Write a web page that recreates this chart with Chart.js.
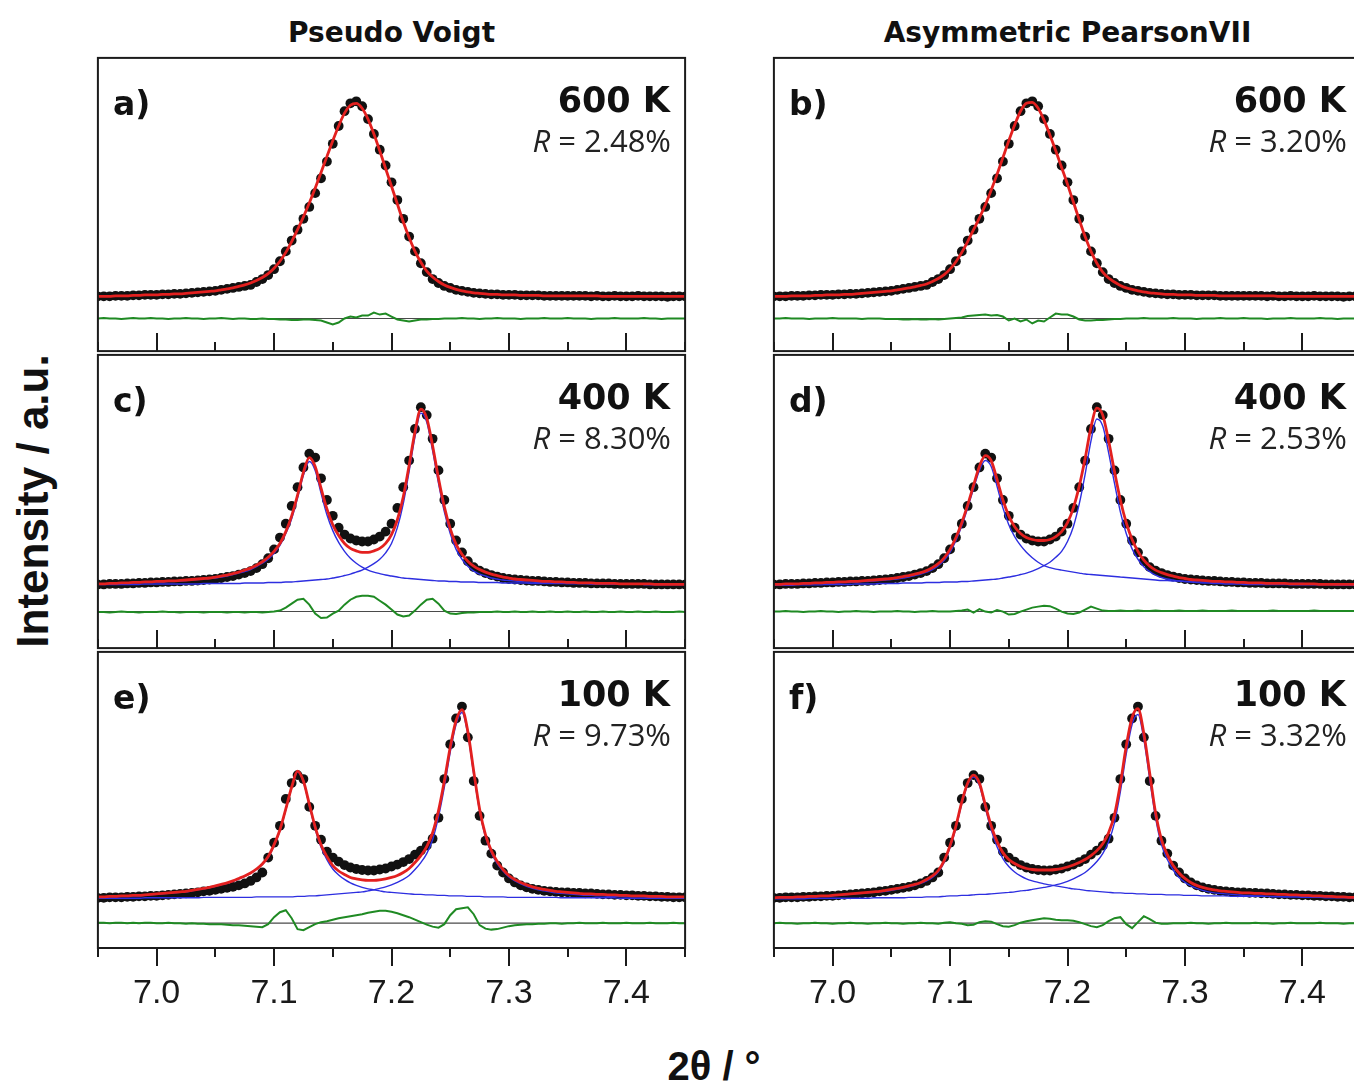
<!DOCTYPE html>
<html>
<head>
<meta charset="utf-8">
<script src="https://cdn.jsdelivr.net/npm/chart.js@4.4.1/dist/chart.umd.min.js"></script>
<style>
  html, body { margin: 0; padding: 0; background: #fff; overflow: hidden; }
  #fig { position: relative; width: 1354px; height: 1084px; overflow: hidden; background: #fff; }
  #fig canvas { position: absolute; }
  .t { position: absolute; white-space: nowrap; line-height: 1; color: #111; }
  .title { font: bold 28px "DejaVu Sans", Verdana, sans-serif; transform: translateX(-50%); }
  .letter { font: bold 33px "DejaVu Sans", Verdana, sans-serif; }
  .temp { font: bold 35px "DejaVu Sans", Verdana, sans-serif; }
  .rval { font: 31px "Open Sans", sans-serif; color: #222; }
  .axis { font: bold 44px "Liberation Sans", Arial, sans-serif; }
</style>
</head>
<body>
<div id="fig"></div>
<script>
// 2θ grid shared by every series (degrees)
const TWO_THETA = [
  6.95, 6.955, 6.96, 6.965, 6.97, 6.975, 6.98, 6.985, 6.99, 6.995,
  7.00, 7.005, 7.01, 7.015, 7.02, 7.025, 7.03, 7.035, 7.04, 7.045,
  7.05, 7.055, 7.06, 7.065, 7.07, 7.075, 7.08, 7.085, 7.09, 7.095,
  7.10, 7.105, 7.11, 7.115, 7.12, 7.125, 7.13, 7.135, 7.14, 7.145,
  7.15, 7.155, 7.16, 7.165, 7.17, 7.175, 7.18, 7.185, 7.19, 7.195,
  7.20, 7.205, 7.21, 7.215, 7.22, 7.225, 7.23, 7.235, 7.24, 7.245,
  7.25, 7.255, 7.26, 7.265, 7.27, 7.275, 7.28, 7.285, 7.29, 7.295,
  7.30, 7.305, 7.31, 7.315, 7.32, 7.325, 7.33, 7.335, 7.34, 7.345,
  7.35, 7.355, 7.36, 7.365, 7.37, 7.375, 7.38, 7.385, 7.39, 7.395,
  7.40, 7.405, 7.41, 7.415, 7.42, 7.425, 7.43, 7.435, 7.44, 7.445,
  7.45
];
const TICK_VALUES = [7.0, 7.1, 7.2, 7.3, 7.4];
const TICK_LABELS = ['7.0', '7.1', '7.2', '7.3', '7.4'];
const MINOR_TICKS = [6.95, 7.05, 7.15, 7.25, 7.35, 7.45];

const COLUMN_TITLES = ['Pseudo Voigt', 'Asymmetric PearsonVII'];
const TEMPERATURES = ['600 K', '400 K', '100 K'];
const PANEL_LETTERS = [['a)', 'b)'], ['c)', 'd)'], ['e)', 'f)']];
const R_FACTORS = [['2.48', '3.20'], ['8.30', '2.53'], ['9.73', '3.32']];
// level of the difference-curve zero line in each temperature row (a.u.)
const DIFF_ZERO = [33, 37, 25];

// ---------- 600 K ----------
const OBS_600K = [
  55.5, 55.5, 55.5, 56, 56, 56, 56.5, 56.5, 57, 57,
  57, 57.5, 57.5, 58, 58, 58.5, 59, 59.5, 60, 60.5,
  61, 62, 63, 64, 65, 66, 67, 70, 73, 77,
  83, 91, 101, 112, 123, 134, 146, 160, 175, 192,
  210, 228, 243, 251, 253, 248, 235, 220, 204, 188,
  171, 153, 134, 116, 101, 89, 80, 73, 69, 66,
  64, 62, 61, 60, 59, 58.5, 58, 57.5, 57.5, 57,
  57, 57, 56.5, 56.5, 56.5, 56.5, 56, 56, 56, 56,
  56, 56, 56, 56, 55.5, 56, 55.5, 55.5, 56, 55.5,
  55.5, 55.5, 56, 55.5, 55.5, 55.5, 55.5, 55, 55.5, 55.5,
  55.5
];
const FIT_PV_600K = [
  55.5, 55.5, 55.5, 56, 56, 56, 56.5, 56.5, 57, 57,
  57, 57.5, 57.5, 58, 58, 58.5, 59, 59.5, 60, 60.5,
  61, 62, 63, 64, 65.5, 67, 69, 71.5, 74.5, 78.5,
  84, 91, 100, 111, 123, 136, 150, 165, 181, 197,
  213, 228, 241, 249, 251, 246, 235, 220, 203, 185,
  167, 149, 131, 115, 101, 90, 81, 75, 70.5, 67,
  64.5, 62.5, 61, 60, 59, 58.5, 58, 57.5, 57.5, 57,
  57, 57, 56.5, 56.5, 56.5, 56.5, 56, 56, 56, 56,
  56, 56, 56, 56, 56, 56, 55.5, 55.5, 55.5, 55.5,
  55.5, 55.5, 55.5, 55.5, 55.5, 55.5, 55.5, 55.5, 55.5, 55.5,
  55.5
];
const DIFF_PV_600K = [
  33, 33.5, 33, 33, 32.5, 33, 33.5, 33, 33, 33.5,
  33, 33, 32.5, 33, 33, 33.5, 33, 33, 32.5, 33,
  33, 33.5, 33, 32.5, 33, 33, 32.5, 32.5, 33, 32.5,
  32.5, 32, 32, 31.5, 31.5, 32, 32, 31.5, 31, 29,
  27, 29, 33, 35, 34, 36, 36, 39, 37, 38,
  35, 32, 31, 30, 31, 32, 32, 32.5, 32.5, 33,
  33, 33, 33.5, 33, 33, 32.5, 33, 33, 33.5, 33,
  33, 33, 32.5, 33, 33, 33, 33.5, 33, 33, 33,
  33.5, 33, 33, 33, 32.5, 33, 33, 33, 33.5, 33,
  33, 33, 33, 33.5, 33, 33, 32.5, 33, 33, 33,
  33
];
const FIT_PVII_600K = [
  55.5, 55.5, 55.5, 56, 56, 56, 56, 56.5, 56.5, 57,
  57, 57, 57.5, 57.5, 58, 58.5, 59, 59.5, 60, 60.5,
  61, 62, 63, 64, 65, 66.5, 68, 70.5, 73.5, 77.5,
  83, 90.5, 100, 111, 123, 135, 148, 163, 179, 196,
  213, 229, 243, 251, 252, 246, 234, 219, 203, 186,
  169, 151, 133, 116, 101, 89, 80, 74, 70, 66.5,
  64, 62.5, 61, 60, 59, 58.5, 58, 57.5, 57.5, 57,
  57, 57, 56.5, 56.5, 56.5, 56.5, 56, 56, 56, 56,
  56, 56, 56, 56, 56, 56, 55.5, 55.5, 55.5, 55.5,
  55.5, 55.5, 55.5, 55.5, 55.5, 55.5, 55.5, 55.5, 55.5, 55.5,
  55.5
];
const DIFF_PVII_600K = [
  33, 33, 33.5, 33, 33, 33, 32.5, 33, 33, 33,
  33.5, 33, 33, 33, 33, 32.5, 33, 33, 33, 32.5,
  32.5, 32.5, 32, 32, 32.5, 32, 32, 32.5, 32, 32.5,
  33, 33.5, 34, 35.5, 36, 36.5, 37, 36, 36.5, 35,
  31, 33, 30, 32, 28, 31, 30, 34, 38, 37,
  37, 35, 32, 31, 31, 31.5, 31.5, 32, 32.5, 32.5,
  33, 33, 33, 33.5, 33, 33, 33, 33, 33.5, 33,
  33, 33, 32.5, 33, 33, 33, 33.5, 33, 33, 33,
  33.5, 33, 33, 33, 32.5, 33, 33, 33, 33.5, 33,
  33, 33, 33, 33.5, 33, 33, 32.5, 33, 33, 33,
  33
];

// ---------- 400 K ----------
const OBS_400K = [
  64.5, 64.5, 65, 65, 65, 65.5, 65.5, 66, 66, 66.5,
  66.5, 67, 67, 67.5, 67.5, 68, 68, 68.5, 69, 69.5,
  70, 71, 72, 73, 74.5, 76, 78, 81, 85, 91,
  100, 112, 126, 144, 163, 183, 197, 193, 172, 150,
  134, 122, 115, 111, 109, 108, 108, 110, 113, 118,
  126, 142, 163, 190, 222, 244, 236, 212, 180, 150,
  126, 109, 97, 88, 82, 78.5, 76, 74, 72.5, 71,
  70, 69.5, 69, 68.5, 68, 68, 67.5, 67, 67, 66.5,
  66.5, 66, 66, 66, 65.5, 65.5, 65.5, 65.5, 65, 65,
  65, 65, 65, 65, 64.5, 64.5, 64.5, 64.5, 64.5, 64.5,
  64.5
];
const FIT_PV_400K = [
  65, 65, 65.5, 65.5, 66, 66, 66.5, 66.5, 67, 67,
  67.5, 67.5, 68, 68, 68.5, 69, 69.5, 70, 70.5, 71,
  72, 73, 74, 75.5, 77, 79, 81, 84, 87.5, 92,
  98, 106, 118, 134, 155, 178, 193, 184, 162, 141,
  125, 114, 106, 101, 98.5, 97, 97, 98.5, 101, 106,
  115, 130, 153, 185, 219, 242, 233, 205, 172, 143,
  121, 105, 95, 88, 83, 79.5, 77, 75, 73.5, 72,
  71, 70, 69.5, 69, 68.5, 68, 67.5, 67.5, 67, 67,
  66.5, 66.5, 66, 66, 66, 65.5, 65.5, 65.5, 65.5, 65,
  65, 65, 65, 65, 65, 64.5, 64.5, 64.5, 64.5, 64.5,
  64.5
];
const PEAK1_PV_400K = [
  65, 65, 65.5, 65.5, 65.5, 66, 66, 66.5, 66.5, 67,
  67, 67, 67.5, 67.5, 68, 68.5, 69, 69.5, 70, 70.5,
  71, 72, 73, 74.5, 76, 77.5, 79.5, 82.5, 86, 90,
  96, 104, 116, 131, 152, 175, 189, 180, 157, 135,
  119, 107, 98, 91, 86, 82, 79, 77, 75.5, 74,
  73, 72, 71, 70.5, 70, 69.5, 69, 68.5, 68, 68,
  67.5, 67.5, 67, 67, 67, 66.5, 66.5, 66.5, 66.5, 66,
  66, 66, 66, 66, 65.5, 65.5, 65.5, 65.5, 65.5, 65.5,
  65.5, 65.5, 65.5, 65.5, 65, 65, 65, 65, 65, 65,
  65, 65, 65, 64.5, 64.5, 64.5, 64.5, 64.5, 64.5, 64.5,
  64.5
];
const PEAK2_PV_400K = [
  64.5, 64.5, 64.5, 64.5, 64.5, 64.5, 64.5, 64.5, 65, 65,
  65, 65, 65, 65, 65, 65, 65, 65, 65.5, 65.5,
  65.5, 65.5, 65.5, 65.5, 65.5, 66, 66, 66, 66, 66.5,
  66.5, 66.5, 67, 67, 67.5, 68, 68.5, 69, 69.5, 70,
  71, 72, 73.5, 75, 77, 79, 82, 85.5, 90, 96.5,
  106, 122, 146, 179, 214, 238, 229, 200, 167, 138,
  116, 100, 90, 83, 78, 75, 73, 71, 70, 69,
  68.5, 68, 67.5, 67, 67, 66.5, 66.5, 66, 66, 66,
  65.5, 65.5, 65.5, 65.5, 65.5, 65, 65, 65, 65, 65,
  65, 65, 65, 64.5, 64.5, 64.5, 64.5, 64.5, 64.5, 64.5,
  64.5
];
const DIFF_PV_400K = [
  36.5, 36.5, 36, 36.5, 37, 36.5, 36.5, 36, 36.5, 36.5,
  36.5, 37, 36.5, 36.5, 36, 36.5, 36.5, 36.5, 36, 36.5,
  36.5, 36.5, 36, 36.5, 36.5, 36, 36.5, 36.5, 36, 36.5,
  37, 38, 41, 45, 49, 50, 44, 35, 30.5, 31,
  35, 38, 44, 49, 52, 53, 53, 52, 48, 44,
  39, 34, 32, 33, 38, 44, 49, 50, 45, 38,
  35, 34.5, 35.5, 36, 36, 36.5, 36.5, 36.5, 37, 36.5,
  36.5, 37, 36.5, 36.5, 37, 36.5, 36.5, 37, 36.5, 36.5,
  37, 36.5, 36.5, 37, 36.5, 36.5, 37, 36.5, 36.5, 37,
  36.5, 36.5, 37, 36.5, 36.5, 37, 36.5, 36.5, 36.5, 37,
  36.5
];
const FIT_PVII_400K = [
  64.5, 64.5, 65, 65, 65, 65.5, 65.5, 66, 66, 66.5,
  66.5, 67, 67, 67.5, 67.5, 68, 68.5, 69, 69.5, 70,
  70.5, 71.5, 72.5, 73.5, 75, 76.5, 78.5, 81.5, 85.5, 91.5,
  100, 112, 127, 145, 165, 184, 195, 190, 171, 150,
  134, 123, 116, 112, 110, 109, 109, 110, 113, 118,
  127, 142, 164, 192, 224, 243, 236, 210, 179, 150,
  127, 110, 98, 89, 83, 79, 76.5, 74.5, 73, 71.5,
  70.5, 69.5, 69, 68.5, 68, 67.5, 67.5, 67, 67, 66.5,
  66.5, 66, 66, 66, 65.5, 65.5, 65.5, 65.5, 65, 65,
  65, 65, 65, 64.5, 64.5, 64.5, 64.5, 64.5, 64.5, 64.5,
  64.5
];
const PEAK1_PVII_400K = [
  64.5, 64.5, 64.5, 64.5, 65, 65, 65, 65.5, 65.5, 66,
  66, 66, 66.5, 66.5, 67, 67.5, 67.5, 68, 68.5, 69,
  69.5, 70, 71, 72, 73.5, 75, 77, 79.5, 83.5, 89,
  97, 109, 124, 142, 161.5, 180, 190, 184, 164, 142,
  125, 113, 104, 97, 91.5, 87, 83.5, 81.5, 80, 79,
  78, 77, 76, 75, 74.5, 74, 73.5, 73, 72.5, 72,
  71.5, 71, 70.5, 70, 69.5, 69, 68.5, 68.5, 68, 68,
  67.5, 67.5, 67, 67, 67, 66.5, 66.5, 66.5, 66, 66,
  66, 66, 65.5, 65.5, 65.5, 65.5, 65.5, 65.5, 65.5, 65.5,
  65.5, 65, 65, 65, 65, 65, 65, 65, 65, 65,
  65
];
const PEAK2_PVII_400K = [
  63.5, 63.5, 63.5, 63.5, 64, 64, 64, 64, 64, 64.5,
  64.5, 64.5, 64.5, 64.5, 65, 65, 65, 65, 65.5, 65.5,
  65.5, 65.5, 66, 66, 66, 66, 66.5, 66.5, 66.5, 67,
  67, 67, 67.5, 67.5, 68, 68.5, 69, 69.5, 70, 71,
  72, 73, 74.5, 76, 78, 80.5, 83.5, 87, 92, 98,
  108, 123, 146, 176, 210, 232, 225, 198, 167, 138,
  116, 100.5, 90, 82.5, 77.5, 74, 71.5, 70, 69, 68,
  67.5, 67, 66.5, 66, 66, 65.5, 65.5, 65, 65, 65,
  64.5, 64.5, 64.5, 64.5, 64.5, 64.5, 64.5, 64.5, 64, 64,
  64, 64, 64, 64, 64, 64, 63.5, 63.5, 63.5, 63.5,
  63.5
];
const DIFF_PVII_400K = [
  37, 37, 37.5, 37, 37, 36.5, 37, 37, 37.5, 37,
  37, 36.5, 37, 37, 37.5, 37, 37, 36.5, 37, 37,
  37, 37.5, 37, 37, 36.5, 37, 37, 37.5, 37, 37,
  37, 37.5, 38, 39, 36, 39.5, 37, 36, 38.5, 37,
  34, 34.5, 37, 39, 41, 42, 43, 42.5, 40, 37,
  35, 34.5, 36, 39, 42, 40, 38, 37.5, 37.5, 38,
  37.5, 37.5, 38, 37.5, 37.5, 38, 37.5, 37.5, 37.5, 38,
  37.5, 37.5, 37.5, 38, 37.5, 37.5, 37.5, 37.5, 38, 37.5,
  37.5, 37.5, 37.5, 37.5, 37.5, 38, 37.5, 37.5, 37.5, 37.5,
  37.5, 37.5, 38, 37.5, 37.5, 37.5, 37.5, 37.5, 37.5, 37.5,
  37.5
];

// ---------- 100 K ----------
const OBS_100K = [
  50.5, 50.5, 51, 51, 51, 51.5, 51.5, 52, 52, 52.5,
  52.5, 53, 53.5, 54, 54.5, 55, 55.5, 56, 57, 57.5,
  58.5, 59.5, 60.5, 61.5, 63, 65, 67.5, 71, 76, 91,
  106, 123, 150, 166, 174, 170, 142, 123, 109, 97,
  91, 87, 83.5, 81, 79.5, 78.5, 78, 78, 79, 80,
  82, 84, 86.5, 89.5, 94, 98, 103, 110, 131, 170,
  205, 231, 243, 212, 168, 133, 108, 95, 83, 76,
  70, 66, 63, 61, 59.5, 58.5, 57.5, 57, 56.5, 56,
  56, 55.5, 55.5, 55, 55, 54.5, 54, 54, 53.5, 53.5,
  53, 53, 52.5, 52.5, 52, 52, 51.5, 51.5, 51, 51,
  51
];
const FIT_PV_100K = [
  51.5, 51.5, 52, 52, 52.5, 52.5, 53, 53, 53.5, 54,
  54.5, 55, 55.5, 56, 56.5, 57, 58, 59, 60, 61,
  62.5, 64, 65.5, 67.5, 70, 72.5, 75.5, 79.5, 84.5, 92,
  104, 119, 140, 162, 178, 168, 145, 122, 104, 92,
  83, 77.5, 74, 71, 69.5, 68.5, 68, 68, 68.5, 69.5,
  71, 73, 76, 80, 86, 93, 102, 116, 138, 168,
  202, 229, 240, 218, 178, 140, 114, 98, 87, 79,
  73, 69, 66, 63.5, 61.5, 60, 59, 58, 57, 56.5,
  56, 55.5, 55, 54.5, 54.5, 54, 54, 53.5, 53.5, 53,
  53, 52.5, 52.5, 52.5, 52, 52, 52, 51.5, 51.5, 51.5,
  51.5
];
const PEAK1_PV_100K = [
  51, 51, 51.5, 51.5, 52, 52, 52.5, 52.5, 53, 53.5,
  54, 54.5, 55, 55.5, 56, 56.5, 57.5, 58.5, 59.5, 60.5,
  62, 63.5, 65, 67, 69.5, 72, 75, 79, 84, 91,
  103, 118, 139, 161, 177, 167, 143.5, 120, 101.5, 89,
  79.5, 73.5, 69, 65.5, 63, 61, 59.5, 58.5, 57.5, 56.5,
  56, 55.5, 55, 54.5, 54, 54, 53.5, 53.5, 53, 53,
  52.5, 52.5, 52.5, 52, 52, 52, 51.5, 51.5, 51.5, 51.5,
  51, 51, 51, 51, 51, 51, 51, 51, 51, 50.5,
  50.5, 50.5, 50.5, 50.5, 50.5, 50.5, 50.5, 50.5, 50.5, 50,
  50, 50, 50, 50, 50, 50, 50, 50, 50, 50,
  50
];
const PEAK2_PV_100K = [
  50, 50, 50, 50, 50, 50, 50, 50, 50.5, 50.5,
  50.5, 50.5, 50.5, 50.5, 50.5, 50.5, 50.5, 50.5, 51, 51,
  51, 51, 51, 51, 51, 51, 51, 51.5, 51.5, 51.5,
  51.5, 51.5, 51.5, 51.5, 52, 52, 52.5, 52.5, 53, 53.5,
  54, 54.5, 55, 55.5, 56, 56.5, 57.5, 58.5, 60, 61.5,
  63.5, 66, 69, 73, 79, 86, 95, 109, 132, 162,
  197, 225, 237, 215, 175, 138, 112, 96, 85, 77.5,
  71.5, 67.5, 64.5, 62, 60, 58.5, 57.5, 56.5, 55.5, 55,
  54.5, 54, 53.5, 53, 53, 52.5, 52.5, 52, 52, 52,
  51.5, 51.5, 51.5, 51.5, 51, 51, 51, 51, 51, 50.5,
  50.5
];
const DIFF_PV_100K = [
  25.5, 25.5, 25, 25.5, 25.5, 25, 25.5, 25, 25.5, 25.5,
  25, 25, 25.5, 25, 25, 24.5, 25, 24.5, 24.5, 24,
  24, 24, 23.5, 23, 23, 22.5, 22, 21.5, 21, 24,
  31, 36, 38, 30, 19, 18, 21, 24, 26, 27,
  28.5, 30, 31, 32, 33, 34, 35.5, 36.5, 37.5, 37.5,
  36.5, 35, 33, 31, 28.5, 26, 23.5, 21.5, 20.5, 24,
  33, 39, 40, 41, 34, 23, 19.5, 18.5, 19, 20.5,
  22, 23, 23.5, 24, 24, 24.5, 24.5, 25, 25, 24.5,
  25, 25, 25.5, 25, 25, 25, 25.5, 25, 25, 25,
  25.5, 25, 25, 25, 25.5, 25, 25, 25, 25.5, 25,
  25
];
const FIT_PVII_100K = [
  50.5, 51, 51, 51, 51.5, 51.5, 52, 52, 52.5, 52.5,
  53, 53.5, 54, 54.5, 55, 55.5, 56, 56.5, 57, 58,
  59, 60, 61, 62.5, 64, 66, 69, 72.5, 78, 88,
  103, 123, 147, 166, 174, 166, 144, 123, 107, 96,
  89, 85, 82, 80, 79, 78.5, 78.5, 78.5, 79, 80,
  81.5, 83.5, 86, 89, 93, 98, 105, 116, 134, 165,
  203, 232, 241, 216, 176, 136, 109, 94, 83, 75.5,
  70, 66, 63, 61, 59.5, 58.5, 57.5, 57, 56.5, 56,
  55.5, 55.5, 55, 55, 54.5, 54.5, 54, 54, 53.5, 53.5,
  53, 53, 52.5, 52.5, 52, 52, 51.5, 51.5, 51, 51,
  51
];
const PEAK1_PVII_100K = [
  50, 50.5, 50.5, 50.5, 51, 51, 51.5, 51.5, 52, 52,
  52.5, 53, 53.5, 54, 54.5, 55, 55.5, 56, 56.5, 57,
  58, 59, 60, 61.5, 63, 65, 67.5, 71, 76.5, 86,
  101, 121, 145, 164, 172, 163.5, 141, 119, 102, 90,
  82, 76.5, 72.5, 69.5, 67.5, 66, 64.5, 63.5, 62.5, 61.5,
  60.5, 59.5, 59, 58, 57.5, 57, 56.5, 56, 55.5, 55.5,
  55, 55, 54.5, 54.5, 54, 54, 54, 53.5, 53.5, 53.5,
  53, 53, 53, 52.5, 52.5, 52.5, 52.5, 52.5, 52, 52,
  52, 52, 52, 52, 52, 51.5, 51.5, 51.5, 51.5, 51.5,
  51.5, 51.5, 51.5, 51, 51, 51, 51, 51, 51, 51,
  51
];
const PEAK2_PVII_100K = [
  49.5, 49.5, 49.5, 49.5, 49.5, 49.5, 50, 50, 50, 50,
  50, 50, 50, 50, 50, 50, 50, 50.5, 50.5, 50.5,
  50.5, 50.5, 50.5, 51, 51, 51, 51.5, 51.5, 51.5, 52,
  52.5, 52.5, 53, 53, 53.5, 54, 54, 54.5, 55, 55.5,
  56, 56.5, 57.5, 58, 59, 60, 61, 62, 63.5, 65,
  67, 69.5, 72.5, 76, 81, 87, 95, 107, 126, 157,
  195, 225, 235, 210, 170, 131, 104, 89, 78.5, 71,
  66, 62.5, 60, 58, 56.5, 55.5, 55, 54.5, 54, 53.5,
  53, 53, 52.5, 52.5, 52, 52, 52, 51.5, 51.5, 51.5,
  51, 51, 51, 51, 50.5, 50.5, 50.5, 50.5, 50.5, 50,
  50
];
const DIFF_PVII_100K = [
  25, 25.5, 25, 25, 24.5, 25, 25, 25.5, 25, 25,
  24.5, 25, 25, 25.5, 25, 25, 24.5, 25, 25, 25.5,
  25, 25, 24.5, 25, 25, 25.5, 25, 25, 24.5, 25.5,
  26, 25, 24.5, 23, 23.5, 26, 27, 26.5, 24, 22,
  21.5, 23, 25.5, 27, 28, 29, 30, 29.5, 28.5, 28,
  28, 27.5, 26, 24, 22, 21, 23, 27, 30, 31,
  24, 20, 26, 32, 29, 25.5, 24.5, 24.5, 25, 25,
  25, 25.5, 25, 25, 24.5, 25, 25, 25.5, 25, 25,
  25, 25, 25.5, 25, 25, 24.5, 25, 25, 25.5, 25,
  25, 25, 25, 25.5, 25, 25, 25, 24.5, 25, 25,
  25
];

// ---------- layout ----------
const COL_X = [96, 772];          // left edge of each column's plot frame
const ROW_Y = [56, 353, 650];     // top edge of each row's plot frame
const ROW_H = [297, 297, 298];    // plot frame heights
const PLOT_W = 591;
const AXIS_H = 90;                // room under the bottom row for tick labels
const PAD = 3;

const RED = '#e3201f', BLUE = '#2d2ee0', GREEN = '#1f8a23', DOT = '#111111';

// panel order: rows = temperatures, columns = profile function
const PANELS = [
  { row: 0, col: 0, obs: OBS_600K, fit: FIT_PV_600K,   diff: DIFF_PV_600K,   peaks: [] },
  { row: 0, col: 1, obs: OBS_600K, fit: FIT_PVII_600K, diff: DIFF_PVII_600K, peaks: [] },
  { row: 1, col: 0, obs: OBS_400K, fit: FIT_PV_400K,   diff: DIFF_PV_400K,   peaks: [PEAK1_PV_400K, PEAK2_PV_400K] },
  { row: 1, col: 1, obs: OBS_400K, fit: FIT_PVII_400K, diff: DIFF_PVII_400K, peaks: [PEAK1_PVII_400K, PEAK2_PVII_400K] },
  { row: 2, col: 0, obs: OBS_100K, fit: FIT_PV_100K,   diff: DIFF_PV_100K,   peaks: [PEAK1_PV_100K, PEAK2_PV_100K] },
  { row: 2, col: 1, obs: OBS_100K, fit: FIT_PVII_100K, diff: DIFF_PVII_100K, peaks: [PEAK1_PVII_100K, PEAK2_PVII_100K] }
];

// frame around each panel plus major/minor tick marks on its lower edge
const frameAndTicks = {
  id: 'frameAndTicks',
  afterDraw(chart, _args, opts) {
    const { ctx, chartArea: a } = chart;
    const xs = chart.scales.x;
    ctx.save();
    ctx.strokeStyle = '#1b1b1b';
    ctx.lineWidth = 2;
    ctx.strokeRect(a.left, a.top, a.right - a.left, a.bottom - a.top);
    const dir = opts.outward ? 1 : -1;
    const mark = (v, len) => {
      const px = Math.round(xs.getPixelForValue(v));
      ctx.beginPath();
      ctx.moveTo(px, a.bottom);
      ctx.lineTo(px, a.bottom + dir * len);
      ctx.stroke();
    };
    TICK_VALUES.forEach(v => mark(v, 18));
    MINOR_TICKS.forEach(v => mark(v, 9));
    ctx.restore();
  }
};
Chart.register(frameAndTicks);

const fig = document.getElementById('fig');
const toPoints = arr => TWO_THETA.map((x, i) => ({ x, y: arr[i] }));

function addText(cls, text, style, html) {
  const d = document.createElement('div');
  d.className = 't ' + cls;
  if (html) d.innerHTML = text; else d.textContent = text;
  Object.assign(d.style, style);
  fig.appendChild(d);
  return d;
}

PANELS.forEach(p => {
  const bottomRow = p.row === ROW_Y.length - 1;
  const axisH = bottomRow ? AXIS_H : 0;
  const h = ROW_H[p.row] + 2 * PAD + axisH;
  const w = PLOT_W + 2 * PAD;
  const cv = document.createElement('canvas');
  cv.width = w; cv.height = h;
  cv.style.width = w + 'px'; cv.style.height = h + 'px';
  cv.style.left = (COL_X[p.col] - PAD) + 'px';
  cv.style.top = (ROW_Y[p.row] - PAD) + 'px';
  fig.appendChild(cv);

  const zero = DIFF_ZERO[p.row];
  const datasets = [
    { data: toPoints(p.fit), showLine: true, borderColor: RED, borderWidth: 2.8,
      pointRadius: 0, cubicInterpolationMode: 'monotone', order: 1 },
    ...p.peaks.map(pk => ({ data: toPoints(pk), showLine: true, borderColor: BLUE, borderWidth: 1.4,
      pointRadius: 0, cubicInterpolationMode: 'monotone', order: 2 })),
    { data: toPoints(p.obs), showLine: false, pointRadius: 4.9, pointBackgroundColor: DOT,
      pointBorderWidth: 0, order: 3 },
    { data: toPoints(p.diff), showLine: true, borderColor: GREEN, borderWidth: 2,
      pointRadius: 0, tension: 0, order: 4 },
    { data: [{ x: TWO_THETA[0], y: zero }, { x: TWO_THETA[TWO_THETA.length - 1], y: zero }],
      showLine: true, borderColor: '#4a4a4a', borderWidth: 1.1, pointRadius: 0, order: 5 }
  ];

  new Chart(cv, {
    type: 'scatter',
    data: { datasets },
    options: {
      responsive: false,
      animation: false,
      devicePixelRatio: 1,
      events: [],
      layout: { padding: { left: PAD, right: PAD, top: PAD, bottom: PAD } },
      plugins: {
        legend: { display: false },
        tooltip: { enabled: false },
        frameAndTicks: { outward: bottomRow }
      },
      scales: {
        x: {
          type: 'linear',
          min: TWO_THETA[0],
          max: TWO_THETA[TWO_THETA.length - 1],
          display: bottomRow,
          grid: { display: false, drawTicks: false },
          border: { display: false },
          afterBuildTicks: s => { s.ticks = TICK_VALUES.map(v => ({ value: v })); },
          afterFit: s => { s.height = axisH; },
          ticks: {
            padding: 25,
            maxRotation: 0,
            autoSkip: false,
            color: '#1a1a1a',
            font: { family: '"Liberation Sans", Arial, sans-serif', size: 34 },
            callback: v => TICK_LABELS[TICK_VALUES.findIndex(t => Math.abs(t - v) < 1e-6)]
          }
        },
        y: { type: 'linear', min: 0, max: ROW_H[p.row], display: false }
      }
    }
  });

  // panel letter, temperature and agreement factor
  const x0 = COL_X[p.col], y0 = ROW_Y[p.row];
  addText('letter', PANEL_LETTERS[p.row][p.col], { left: (x0 + 17) + 'px', top: (y0 + 28) + 'px' });
  addText('temp', TEMPERATURES[p.row], { right: (1354 - (x0 + 574)) + 'px', top: (y0 + 24) + 'px' });
  addText('rval', '<i>R</i> = ' + R_FACTORS[p.row][p.col] + '%',
          { right: (1354 - (x0 + 575)) + 'px', top: (y0 + 63) + 'px' }, true);
});

// column titles
COLUMN_TITLES.forEach((t, c) => {
  addText('title', t, { left: (COL_X[c] + PLOT_W / 2) + 'px', top: '16px' });
});

// axis titles
addText('axis', 'Intensity / a.u.', {
  left: '33px', top: '501px', transform: 'translate(-50%, -50%) rotate(-90deg)'
});
addText('axis', '2θ / °', {
  left: '714px', top: '1044px', fontSize: '40px', transform: 'translateX(-50%)'
});
</script>
</body>
</html>
